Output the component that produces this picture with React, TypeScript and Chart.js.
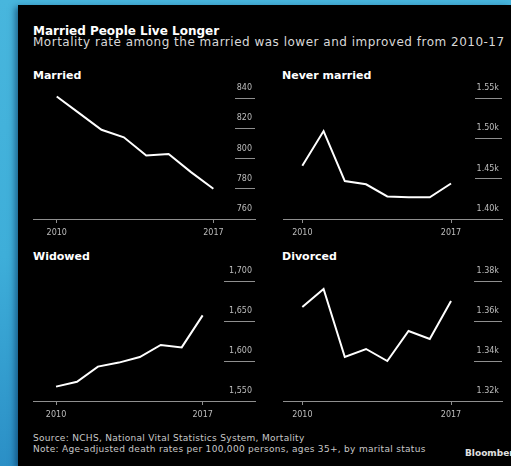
import React, { useEffect, useRef } from "react";
import { Chart, registerables } from "chart.js";

Chart.register(...registerables);

// ---- data ----
const years = [2010, 2011, 2012, 2013, 2014, 2015, 2016, 2017];
const marriedValues = [841, 830, 819, 814, 802, 803, 791, 780];
const neverMarriedValues = [1466, 1509, 1447, 1443, 1428, 1427, 1427, 1444];
const widowedValues = [1568, 1574, 1593, 1598, 1605, 1620, 1617, 1657];
const divorcedValues = [1367, 1376, 1342, 1346, 1340, 1355, 1351, 1370];

const marriedTicks = [760, 780, 800, 820, 840];
const marriedTickLabels = ["760", "780", "800", "820", "840"];
const neverMarriedTicks = [1400, 1450, 1500, 1550];
const neverMarriedTickLabels = ["1.40k", "1.45k", "1.50k", "1.55k"];
const widowedTicks = [1550, 1600, 1650, 1700];
const widowedTickLabels = ["1,550", "1,600", "1,650", "1,700"];
const divorcedTicks = [1320, 1340, 1360, 1380];
const divorcedTickLabels = ["1.32k", "1.34k", "1.36k", "1.38k"];

const xTickYears = [2010, 2017];
const xTickLabels = ["2010", "2017"];

const TITLE = "Married People Live Longer";
const SUBTITLE = "Mortality rate among the married was lower and improved from 2010-17";
const SOURCE = "Source: NCHS, National Vital Statistics System, Mortality";
const NOTE = "Note: Age-adjusted death rates per 100,000 persons, ages 35+, by marital status";

const FONT = "'DejaVu Sans', 'Liberation Sans', sans-serif";
const AXIS_GRAY = "#8f8f8f";
const LABEL_GRAY = "#bdbdbd";

type PanelProps = {
  values: number[];
  ticks: number[];
  tickLabels: string[];
  xMin: number;
  xMax: number;
  yMin: number;
  yMax: number;
  tickLen: number;
  left: number;
  top: number;
  width: number;
  height: number;
  pad: { left: number; right: number; top: number; bottom: number };
};

function Panel(p: PanelProps) {
  const ref = useRef<HTMLCanvasElement | null>(null);
  useEffect(() => {
    if (!ref.current) return;
    const chart = new Chart(ref.current, {
      type: "line",
      data: {
        datasets: [
          {
            data: years.map((yr, i) => ({ x: yr, y: p.values[i] })),
            borderColor: "#ffffff",
            borderWidth: 2,
            pointRadius: 0,
            tension: 0,
            clip: false as any,
          },
        ],
      },
      options: {
        animation: false,
        responsive: false,
        maintainAspectRatio: false,
        layout: { padding: p.pad },
        plugins: {
          legend: { display: false },
          tooltip: { enabled: false },
        },
        scales: {
          x: {
            type: "linear",
            min: p.xMin,
            max: p.xMax,
            afterBuildTicks: (s: any) => {
              s.ticks = xTickYears.map((v) => ({ value: v }));
            },
            afterFit: (s: any) => {
              s.height = 16;
            },
            grid: {
              drawOnChartArea: false,
              drawTicks: true,
              tickLength: 4,
              tickColor: AXIS_GRAY,
              lineWidth: 1,
            },
            border: { display: true, color: AXIS_GRAY, width: 1 },
            ticks: {
              color: LABEL_GRAY,
              font: { family: FONT, size: 8 },
              padding: 5,
              maxRotation: 0,
              autoSkip: false,
              callback: (_v: any, i: number) => xTickLabels[i],
            },
          },
          y: {
            type: "linear",
            position: "right",
            min: p.yMin,
            max: p.yMax,
            afterBuildTicks: (s: any) => {
              s.ticks = p.ticks.map((v) => ({ value: v }));
            },
            afterFit: (s: any) => {
              s.width = 0;
            },
            grid: {
              drawOnChartArea: false,
              drawTicks: true,
              tickLength: -p.tickLen,
              tickColor: AXIS_GRAY,
              lineWidth: 1,
            },
            border: { display: false },
            ticks: {
              mirror: true,
              crossAlign: "near",
              padding: -3,
              labelOffset: -10,
              color: LABEL_GRAY,
              font: { family: FONT, size: 8 },
              autoSkip: false,
              callback: (_v: any, i: number) => p.tickLabels[i],
            },
          },
        },
      } as any,
    });
    return () => chart.destroy();
  }, []);
  return (
    <canvas
      ref={ref}
      width={p.width}
      height={p.height}
      style={{ position: "absolute", left: p.left, top: p.top, width: p.width, height: p.height }}
    />
  );
}

function Text(props: {
  x: number;
  y: number;
  size: number;
  bold?: boolean;
  color?: string;
  spacing?: number;
  children: React.ReactNode;
}) {
  return (
    <div
      style={{
        position: "absolute",
        left: props.x,
        top: props.y,
        fontFamily: FONT,
        fontSize: props.size,
        lineHeight: props.size * 1.2 + "px",
        fontWeight: props.bold ? 700 : 400,
        color: props.color || "#ffffff",
        letterSpacing: props.spacing ? props.spacing + "px" : undefined,
        whiteSpace: "nowrap",
      }}
    >
      {props.children}
    </div>
  );
}

export default function App() {
  return (
    <div
      style={{
        position: "fixed",
        left: 0,
        top: 0,
        width: 511,
        height: 466,
        overflow: "hidden",
        background: "linear-gradient(to bottom, #48b6dd 0%, #3eaed9 55%, #2b8fc6 100%)",
      }}
    >
      <div
        style={{
          position: "absolute",
          left: 18,
          top: 5,
          right: 0,
          bottom: 0,
          background: "#000000",
          boxShadow: "-3px 2px 6px rgba(0,40,80,0.55)",
        }}
      />
      <Text x={33} y={24} size={12} bold>{TITLE}</Text>
      <Text x={33} y={35} size={12} spacing={0.5} color="#d8d8d8">{SUBTITLE}</Text>

      <Text x={33} y={69} size={11} bold>Married</Text>
      <Text x={282} y={69} size={11} bold>Never married</Text>
      <Text x={33} y={250} size={11} bold>Widowed</Text>
      <Text x={282} y={250} size={11} bold>Divorced</Text>

      <Panel
        values={marriedValues}
        ticks={marriedTicks}
        tickLabels={marriedTickLabels}
        xMin={2008.94}
        xMax={2018.86}
        yMin={760}
        yMax={840}
        tickLen={20}
        left={20}
        top={80}
        width={240}
        height={160}
        pad={{ left: 13, right: 5, top: 18, bottom: 5 }}
      />
      <Panel
        values={neverMarriedValues}
        ticks={neverMarriedTicks}
        tickLabels={neverMarriedTickLabels}
        xMin={2009.09}
        xMax={2019.4}
        yMin={1400}
        yMax={1550}
        tickLen={27}
        left={270}
        top={80}
        width={240}
        height={160}
        pad={{ left: 13, right: 8, top: 18, bottom: 5 }}
      />
      <Panel
        values={widowedValues}
        ticks={widowedTicks}
        tickLabels={widowedTickLabels}
        xMin={2008.9}
        xMax={2019.5}
        yMin={1550}
        yMax={1700}
        tickLen={31}
        left={20}
        top={262}
        width={240}
        height={160}
        pad={{ left: 13, right: 5, top: 19, bottom: 5 }}
      />
      <Panel
        values={divorcedValues}
        ticks={divorcedTicks}
        tickLabels={divorcedTickLabels}
        xMin={2009.09}
        xMax={2019.4}
        yMin={1320}
        yMax={1380}
        tickLen={28}
        left={270}
        top={262}
        width={240}
        height={160}
        pad={{ left: 13, right: 8, top: 19, bottom: 5 }}
      />

      <Text x={33} y={433} size={9} spacing={0.3} color="#c8c8c8">{SOURCE}</Text>
      <Text x={33} y={444} size={9} spacing={0.3} color="#c8c8c8">{NOTE}</Text>
      <Text x={465} y={448} size={9} bold color="#e0e0e0">Bloomberg</Text>
    </div>
  );
}
